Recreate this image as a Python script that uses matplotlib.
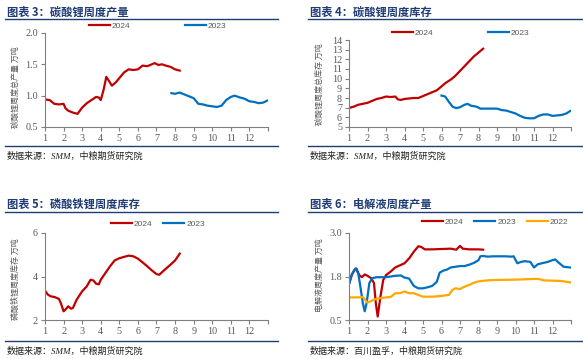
import matplotlib
matplotlib.use("Agg")
import matplotlib.pyplot as plt
from matplotlib.lines import Line2D

plt.rcParams['font.family'] = ['Liberation Serif', 'Noto Sans CJK SC']

RED = '#C00000'
BLUE = '#0070C0'
ORANGE = '#FFA800'
NAVY = '#1F3C74'
GREY = '#595959'

# ---------------- data (x = month position) ----------------
# Chart 3: lithium carbonate weekly output (10k t)
c3_x24 = [1.0, 1.25, 1.5, 1.75, 2.0, 2.1, 2.25, 2.5, 2.75, 3.0, 3.25, 3.5, 3.75, 3.9, 4.0,
          4.15, 4.3, 4.45, 4.6, 4.8, 5.0, 5.25, 5.5, 5.75, 6.0, 6.25, 6.5, 6.75, 6.9, 7.1,
          7.3, 7.5, 7.75, 8.0, 8.25]
c3_y24 = [0.94, 0.93, 0.87, 0.86, 0.87, 0.80, 0.76, 0.73, 0.71, 0.81, 0.88, 0.93, 0.98, 0.97, 0.93,
          1.09, 1.30, 1.23, 1.16, 1.21, 1.28, 1.37, 1.42, 1.41, 1.42, 1.48, 1.47, 1.50, 1.52, 1.49,
          1.50, 1.48, 1.46, 1.42, 1.40]
c3_x23 = [7.8, 8.0, 8.25, 8.5, 8.75, 9.0, 9.25, 9.5, 9.75, 10.0, 10.25, 10.5, 10.75, 11.0,
          11.2, 11.5, 11.75, 12.0, 12.25, 12.5, 12.75, 12.95]
c3_y23 = [1.04, 1.03, 1.05, 1.02, 0.99, 0.96, 0.87, 0.86, 0.84, 0.83, 0.82, 0.84, 0.93, 0.98,
          1.00, 0.97, 0.95, 0.91, 0.90, 0.88, 0.89, 0.92]

# Chart 4: lithium carbonate weekly inventory (10k t)
c4_x24 = [1.0, 1.25, 1.5, 1.75, 2.0, 2.25, 2.5, 2.75, 3.0, 3.25, 3.5, 3.65, 3.8, 4.0, 4.25,
          4.5, 4.75, 5.0, 5.25, 5.5, 5.75, 6.0, 6.25, 6.5, 6.75, 7.0, 7.25, 7.5, 7.75, 8.0, 8.25]
c4_y24 = [6.97, 7.1, 7.3, 7.4, 7.5, 7.7, 7.9, 8.0, 8.15, 8.1, 8.15, 7.85, 7.8, 7.9, 7.95,
          8.0, 8.0, 8.2, 8.4, 8.6, 8.8, 9.2, 9.6, 9.9, 10.3, 10.8, 11.3, 11.8, 12.3, 12.7, 13.1]
c4_x23 = [6.0, 6.2, 6.4, 6.6, 6.8, 7.0, 7.25, 7.4, 7.6, 7.9, 8.1, 8.5, 9.0, 9.25, 9.5, 9.75,
          10.0, 10.25, 10.5, 10.75, 11.0, 11.25, 11.5, 11.75, 12.0, 12.25, 12.5, 12.75, 12.95]
c4_y23 = [8.25, 8.15, 7.6, 7.1, 6.95, 7.05, 7.3, 7.4, 7.2, 7.1, 6.9, 6.9, 6.9, 6.75, 6.7, 6.55,
          6.4, 6.15, 5.95, 5.9, 5.9, 6.15, 6.3, 6.3, 6.15, 6.2, 6.25, 6.4, 6.65]

# Chart 5: LFP weekly inventory (10k t)
c5_x24 = [1.0, 1.15, 1.3, 1.5, 1.75, 1.85, 2.0, 2.1, 2.25, 2.4, 2.5, 2.7, 3.0, 3.25, 3.45,
          3.6, 3.75, 3.9, 4.0, 4.25, 4.5, 4.75, 5.0, 5.25, 5.5, 5.75, 6.0, 6.25, 6.5, 6.75,
          7.0, 7.15, 7.4, 7.75, 8.0, 8.25]
c5_y24 = [3.35, 3.17, 3.09, 3.06, 2.97, 2.78, 2.40, 2.48, 2.63, 2.52, 2.55, 2.93, 3.32, 3.55, 3.85,
          3.82, 3.67, 3.64, 3.85, 4.16, 4.47, 4.74, 4.84, 4.90, 4.96, 4.93, 4.82, 4.65, 4.47, 4.28,
          4.11, 4.08, 4.28, 4.54, 4.74, 5.05]

# Chart 6: electrolyte weekly output (10k t)
c6_x24 = [1.0, 1.15, 1.3, 1.4, 1.55, 1.7, 1.85, 2.0, 2.2, 2.35, 2.45, 2.55, 2.7, 2.85, 3.0,
          3.25, 3.5, 3.75, 4.0, 4.25, 4.5, 4.75, 4.9, 5.1, 5.5, 6.0, 6.5, 6.8, 7.0, 7.15,
          7.5, 8.0, 8.25]
c6_y24 = [1.53, 1.79, 1.95, 1.98, 1.79, 1.73, 1.81, 1.77, 1.70, 1.56, 0.98, 0.60, 1.17, 1.65, 1.79,
          1.89, 2.01, 2.07, 2.13, 2.27, 2.46, 2.62, 2.60, 2.53, 2.53, 2.54, 2.55, 2.52, 2.63, 2.55,
          2.53, 2.53, 2.52]
c6_x23 = [1.0, 1.15, 1.35, 1.5, 1.6, 1.75, 1.85, 1.95, 2.1, 2.25, 2.5, 3.0, 3.5, 3.8, 4.0,
          4.25, 4.5, 4.75, 5.0, 5.25, 5.5, 5.75, 5.9, 6.1, 6.3, 6.5, 6.75, 7.0, 7.25, 7.5,
          7.75, 8.0, 8.1, 8.25, 8.5, 8.75, 9.0, 9.5, 9.75, 9.9, 10.1, 10.3, 10.5, 10.8, 11.0,
          11.2, 11.5, 11.75, 12.0, 12.15, 12.35, 12.6, 12.95]
c6_y23 = [1.54, 1.81, 1.98, 1.84, 1.51, 0.98, 0.75, 0.98, 1.56, 1.70, 1.73, 1.73, 1.77, 1.78, 1.72,
          1.69, 1.48, 1.41, 1.41, 1.44, 1.48, 1.60, 1.86, 1.92, 1.95, 2.01, 2.03, 2.05, 2.05, 2.09,
          2.14, 2.22, 2.33, 2.34, 2.32, 2.33, 2.33, 2.33, 2.32, 2.33, 2.13, 2.17, 2.19, 2.17, 2.01,
          2.10, 2.14, 2.17, 2.22, 2.24, 2.14, 2.03, 2.01]
c6_x22 = [1.0, 1.5, 1.75, 1.9, 2.0, 2.25, 2.5, 2.75, 3.0, 3.25, 3.5, 3.75, 4.0, 4.25, 4.5,
          4.75, 5.0, 5.5, 6.0, 6.25, 6.4, 6.6, 6.75, 7.0, 7.25, 7.5, 7.75, 8.0, 8.5, 9.0,
          10.0, 10.5, 11.0, 11.25, 11.5, 12.0, 12.5, 12.95]
c6_y22 = [1.15, 1.15, 1.16, 1.06, 1.00, 1.06, 1.11, 1.13, 1.15, 1.16, 1.27, 1.27, 1.32, 1.27, 1.27,
          1.22, 1.17, 1.17, 1.19, 1.21, 1.22, 1.37, 1.41, 1.39, 1.46, 1.51, 1.57, 1.61, 1.64, 1.65,
          1.66, 1.67, 1.68, 1.68, 1.64, 1.63, 1.62, 1.58]

month_ticks = list(range(1, 13))
month_labels = [str(m) for m in month_ticks]

W, H = 583, 359
fig = plt.figure(figsize=(W / 100, H / 100), dpi=100)


def px_axes(left, top, right, bottom):
    return fig.add_axes([left / W, 1 - bottom / H, (right - left) / W, (bottom - top) / H])


def fx(x):
    return x / W


def fy(y):
    return 1 - y / H


def frame(x0, x1, title, title_y, line_y, bottom_y, source):
    fig.text(fx(x0 + 2), fy(title_y), title, fontsize=8.1, fontweight='bold', color=NAVY,
             family=['Noto Sans CJK SC'], va='center', ha='left')
    fig.add_artist(Line2D([fx(x0), fx(x1)], [fy(line_y), fy(line_y)], color=NAVY, lw=1.0))
    fig.add_artist(Line2D([fx(x0), fx(x1)], [fy(bottom_y), fy(bottom_y)], color=NAVY, lw=1.0))
    fig.text(fx(x0 + 2), fy(bottom_y + 10), source, fontsize=6.5, style='italic', color='#222222',
             family=['Liberation Serif', 'Noto Sans CJK SC'], va='center', ha='left')


def style_axes(ax, ylim, yticks, ylabels, ylabel, label_x, label_y):
    ax.set_xlim(1, 13)
    ax.set_ylim(*ylim)
    ax.set_xticks(month_ticks + [13])
    ax.set_xticklabels(month_labels + [''])
    ax.set_yticks(yticks)
    ax.set_yticklabels(ylabels)
    for s in ['top', 'right']:
        ax.spines[s].set_visible(False)
    for s in ['left', 'bottom']:
        ax.spines[s].set_color('#7F7F7F')
        ax.spines[s].set_linewidth(0.8)
    ax.tick_params(axis='both', direction='out', length=3, width=0.8, color='#7F7F7F',
                   labelsize=7.3, labelcolor=GREY, pad=2)
    ax.set_facecolor('none')
    fig.text(fx(label_x), fy(label_y), ylabel, rotation=90, fontsize=5.8, color=GREY,
             family=['Noto Sans CJK SC'], va='center', ha='center')


def legend(ax, handles, labels, x, y, spacing):
    ax.legend(handles, labels, loc='center left', bbox_to_anchor=(fx(x), fy(y)),
              bbox_transform=fig.transFigure, ncol=len(handles), frameon=False,
              prop={'family': 'Liberation Sans', 'size': 6}, labelcolor=GREY,
              handlelength=2.5, handletextpad=0.25,
              columnspacing=spacing, borderpad=0, borderaxespad=0)


LW = 1.6

# ---- Chart 3 ----
frame(5, 278, '图表 3：碳酸锂周度产量', 12, 19, 146, '数据来源：SMM，中粮期货研究院')
ax1 = px_axes(45, 33, 268, 127)
l1, = ax1.plot(c3_x24, c3_y24, color=RED, lw=LW)
l2, = ax1.plot(c3_x23, c3_y23, color=BLUE, lw=LW)
style_axes(ax1, (0.5, 2.0), [0.5, 1.0, 1.5, 2.0], ['0.5', '1.0', '1.5', '2.0'],
           '碳酸锂周度总产量 万吨', 15, 87)
legend(ax1, [l1, l2], ['2024', '2023'], 89, 26, 6.5)

# ---- Chart 4 ----
frame(308, 582, '图表 4：碳酸锂周度库存', 12, 19, 146, '数据来源：SMM，中粮期货研究院')
ax2 = px_axes(349, 40, 571, 127)
l1, = ax2.plot(c4_x24, c4_y24, color=RED, lw=LW)
l2, = ax2.plot(c4_x23, c4_y23, color=BLUE, lw=LW)
style_axes(ax2, (5, 14), list(range(5, 15)), [str(v) for v in range(5, 15)],
           '碳酸锂周度总库存 万吨', 319, 84)
legend(ax2, [l1, l2], ['2024', '2023'], 392, 33, 6.5)

# ---- Chart 5 ----
frame(5, 278, '图表 5：磷酸铁锂周度库存', 204, 212, 341, '数据来源：SMM，中粮期货研究院')
ax3 = px_axes(45, 233, 268, 320)
l1, = ax3.plot(c5_x24, c5_y24, color=RED, lw=LW)
l2 = Line2D([], [], color=BLUE, lw=LW)
style_axes(ax3, (2, 6), [2, 4, 6], ['2', '4', '6'],
           '磷酸铁锂周度库存 万吨', 15, 279)
legend(ax3, [l1, l2], ['2024', '2023'], 111, 224, 1.3)

# ---- Chart 6 ----
frame(308, 582, '图表 6：电解液周度产量', 204, 212, 341, '数据来源：百川盈孚，中粮期货研究院')
ax4 = px_axes(349, 233, 571, 320)
l1, = ax4.plot(c6_x24, c6_y24, color=RED, lw=LW)
l2, = ax4.plot(c6_x23, c6_y23, color=BLUE, lw=LW)
l3, = ax4.plot(c6_x22, c6_y22, color=ORANGE, lw=LW)
style_axes(ax4, (0.5, 3.0), [0.5, 1.75, 3.0], ['0.5', '1.8', '3.0'],
           '电解液周度产量 万吨', 319, 275)
legend(ax4, [l1, l2, l3], ['2024', '2023', '2022'], 422, 222, 1.3)

fig.savefig('out.png', dpi=100)
